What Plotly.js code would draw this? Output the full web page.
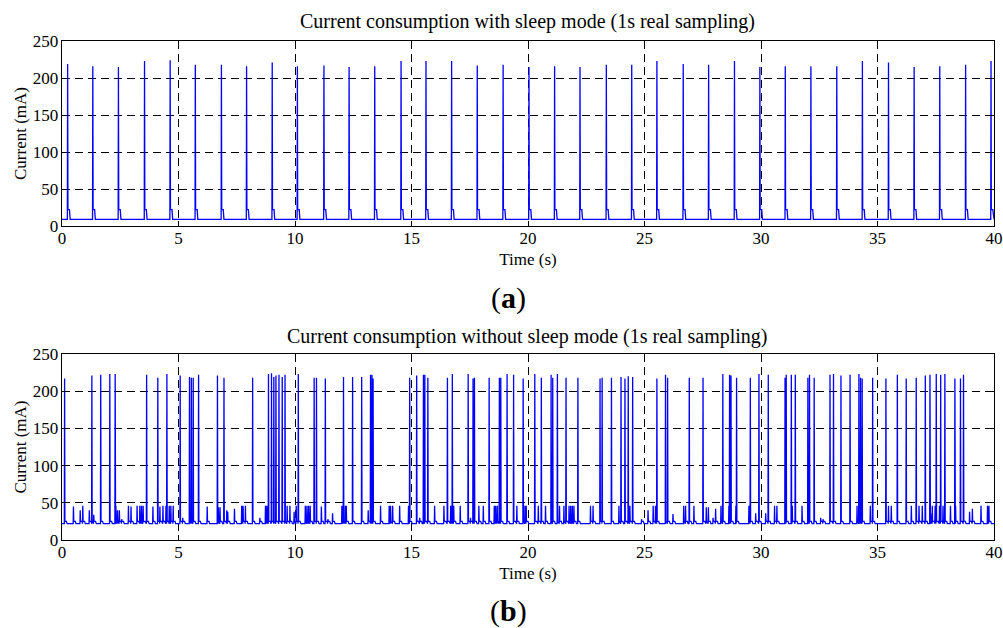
<!DOCTYPE html>
<html>
<head>
<meta charset="utf-8">
<script src="https://cdn.plot.ly/plotly-3.0.1.min.js"></script>
<style>html,body{margin:0;padding:0;background:#fff;}#chart{width:1003px;height:628px;}</style>
</head>
<body>
<div id="chart"></div>
<script>
// ---- Data ----
// (a) with sleep mode: periodic transmission spikes
const sleepSpikeTimes = [0.23, 1.31, 2.41, 3.53, 4.63, 5.71, 6.83, 7.91, 9.01, 10.09, 11.23, 12.31, 13.41, 14.54, 15.61, 16.71, 17.81, 18.92, 20.03, 21.13, 22.22, 23.35, 24.44, 25.52, 26.65, 27.74, 28.85, 29.94, 31.03, 32.13, 33.24, 34.34, 35.46, 36.56, 37.66, 38.77, 39.86];
const sleepSpikePeaks = [219, 216, 215, 223, 224, 218, 218, 216, 221, 216, 217, 215, 216, 223, 223, 223, 217, 218, 215, 216, 215, 218, 218, 223, 219, 218, 223, 215, 216, 216, 216, 223, 221, 215, 216, 218, 223];
const sleepBase = 9;
const sleepShoulder = 22;

// (b) without sleep mode: tall transmission spikes
const awakeTallTimes = [0.10, 1.27, 1.65, 2.04, 2.27, 3.62, 4.10, 4.49, 5.06, 5.46, 5.54, 5.62, 5.85, 6.66, 6.94, 8.17, 8.85, 8.98, 9.08, 9.17, 9.30, 9.44, 9.56, 10.13, 10.81, 10.91, 11.29, 12.07, 12.46, 12.85, 13.23, 13.29, 13.34, 14.91, 15.21, 15.50, 15.56, 15.69, 16.53, 16.74, 17.42, 17.63, 17.69, 18.32, 18.76, 18.82, 19.09, 19.37, 19.78, 20.28, 20.56, 20.98, 21.05, 21.25, 21.62, 22.13, 23.08, 23.17, 23.57, 23.98, 24.15, 24.29, 24.48, 25.52, 25.89, 25.98, 26.91, 27.50, 28.35, 28.64, 28.70, 28.94, 29.53, 29.90, 30.30, 31.02, 31.07, 31.29, 31.46, 32.00, 32.07, 32.27, 32.95, 33.10, 33.42, 33.81, 34.19, 34.26, 34.33, 34.78, 35.35, 35.84, 36.22, 36.65, 37.04, 37.24, 37.51, 37.70, 37.88, 38.31, 38.55, 38.68];
const awakeTallPeaks = [217, 221, 222, 223, 223, 222, 218, 223, 221, 219, 218, 218, 222, 221, 218, 218, 223, 224, 219, 221, 222, 219, 222, 223, 218, 218, 217, 219, 219, 219, 222, 222, 217, 218, 221, 222, 222, 218, 218, 223, 223, 217, 218, 218, 218, 218, 223, 222, 217, 223, 218, 222, 218, 223, 218, 218, 217, 218, 218, 219, 217, 220, 219, 217, 222, 218, 218, 218, 223, 222, 221, 218, 218, 223, 222, 218, 222, 222, 222, 218, 222, 218, 222, 223, 221, 222, 223, 218, 217, 218, 217, 222, 217, 218, 221, 222, 223, 222, 223, 217, 217, 222];
// (b) medium / small activity spikes
const awakeMidTimes = [0.48, 0.77, 0.88, 1.16, 1.35, 2.30, 2.37, 2.45, 2.55, 2.84, 2.95, 3.21, 3.33, 3.40, 3.47, 3.89, 4.19, 4.32, 4.45, 4.59, 4.66, 4.76, 5.17, 6.22, 6.70, 6.77, 7.06, 7.10, 7.39, 7.70, 7.76, 7.86, 8.48, 8.72, 8.78, 9.65, 9.77, 9.95, 10.04, 10.43, 10.50, 10.57, 10.64, 11.12, 11.40, 11.60, 12.00, 12.15, 12.19, 13.13, 13.66, 14.03, 14.09, 14.18, 14.48, 14.86, 15.34, 15.98, 16.38, 16.67, 16.80, 17.08, 17.52, 17.88, 18.07, 18.54, 18.60, 18.67, 19.51, 19.86, 19.91, 20.43, 20.74, 21.34, 21.53, 21.75, 21.82, 21.89, 21.96, 22.67, 22.78, 23.89, 24.36, 24.86, 25.14, 25.36, 25.46, 26.21, 26.67, 26.75, 27.11, 27.64, 27.73, 27.93, 28.04, 28.27, 28.61, 28.91, 29.47, 29.76, 30.19, 30.57, 30.67, 31.33, 31.75, 32.55, 32.65, 34.11, 34.68, 35.46, 35.58, 36.44, 36.77, 36.91, 37.27, 37.34, 37.46, 37.65, 37.80, 38.12, 38.34, 38.94, 39.06, 39.43, 39.71, 39.77];
const awakeMidPeaks = [45, 40, 46, 40, 34, 46, 40, 40, 28, 46, 45, 46, 46, 46, 46, 45, 45, 46, 46, 46, 46, 46, 30, 45, 44, 44, 40, 38, 42, 46, 46, 46, 30, 46, 46, 46, 46, 38, 46, 46, 46, 46, 46, 45, 28, 36, 46, 46, 46, 40, 46, 46, 46, 46, 46, 46, 30, 46, 46, 46, 46, 46, 30, 46, 46, 46, 46, 46, 46, 46, 46, 46, 46, 46, 46, 46, 46, 46, 46, 46, 46, 46, 46, 28, 40, 46, 46, 35, 46, 46, 46, 44, 44, 30, 42, 46, 46, 46, 46, 36, 36, 46, 46, 46, 46, 30, 28, 46, 46, 46, 46, 46, 46, 46, 36, 46, 46, 46, 46, 46, 46, 38, 42, 46, 46, 46];
const awakeBase = 22;
const awakeShoulder = 25;

const xTicks = [0, 5, 10, 15, 20, 25, 30, 35, 40];
const yTicks = [0, 50, 100, 150, 200, 250];

// ---- Build the traces from the event lists ----
function buildSeries(events, base, shoulder) {
  events.sort((a, b) => a[0] - b[0]);
  const xs = [0], ys = [base];
  for (let i = 0; i < events.length; i++) {
    const t = events[i][0], p = events[i][1];
    const next = i + 1 < events.length ? events[i + 1][0] : 40;
    const offs = [[0, base], [0.012, p], [0.025, shoulder], [0.09, shoulder], [0.12, base]];
    for (const o of offs) {
      if (t + o[0] < next) { xs.push(t + o[0]); ys.push(o[1]); }
    }
  }
  xs.push(40); ys.push(base);
  return {xs, ys};
}
const sleepEvents = sleepSpikeTimes.map((t, i) => [t, sleepSpikePeaks[i]]);
const awakeEvents = awakeTallTimes.map((t, i) => [t, awakeTallPeaks[i]])
  .concat(awakeMidTimes.map((t, i) => [t, awakeMidPeaks[i]]));
const sA = buildSeries(sleepEvents, sleepBase, sleepShoulder);
const sB = buildSeries(awakeEvents, awakeBase, awakeShoulder);

const W = 1003, H = 628;
const fx = p => p / W;
const fy = p => 1 - p / H;
const FONT = 'Liberation Serif, Times New Roman, serif';

const traces = [
  {x: sA.xs, y: sA.ys, type: 'scatter', mode: 'lines', line: {color: '#0000ff', width: 1.3}, xaxis: 'x', yaxis: 'y', showlegend: false, hoverinfo: 'skip'},
  {x: sB.xs, y: sB.ys, type: 'scatter', mode: 'lines', line: {color: '#0000ff', width: 1.3}, xaxis: 'x2', yaxis: 'y2', showlegend: false, hoverinfo: 'skip'}
];

function xa(anchor) {
  return {
    domain: [fx(62), fx(994)], range: [0, 40], tickvals: xTicks, ticktext: xTicks.map(String),
    anchor: anchor, showgrid: true, gridcolor: '#000', griddash: '8px,5px', gridwidth: 1,
    zeroline: false, showline: true, linecolor: '#000', linewidth: 1.3, mirror: 'ticks',
    ticks: 'inside', ticklen: 5, tickcolor: '#000', ticklabelstandoff: -4,
    tickfont: {family: FONT, size: 17, color: '#000'},
    title: {text: 'Time (s)', font: {family: FONT, size: 17, color: '#000'}, standoff: 6},
    automargin: false, fixedrange: true
  };
}
function ya(anchor, top, bottom) {
  return {
    domain: [fy(bottom), fy(top)], range: [0, 250], tickvals: yTicks, ticktext: yTicks.map(String),
    anchor: anchor, showgrid: true, gridcolor: '#000', griddash: '8px,5px', gridwidth: 1,
    zeroline: false, showline: true, linecolor: '#000', linewidth: 1.3, mirror: 'ticks',
    ticks: 'inside', ticklen: 5, tickcolor: '#000', ticklabelstandoff: -1,
    tickfont: {family: FONT, size: 17, color: '#000'},
    title: {text: 'Current (mA)', font: {family: FONT, size: 17, color: '#000'}, standoff: 1},
    automargin: false, fixedrange: true
  };
}

const layout = {
  width: W, height: H,
  margin: {l: 0, r: 0, t: 0, b: 0},
  paper_bgcolor: '#fff', plot_bgcolor: '#fff',
  showlegend: false,
  xaxis: xa('y'), yaxis: ya('x', 41, 226),
  xaxis2: xa('y2'), yaxis2: ya('x2', 354, 540),
  annotations: [
    {text: 'Current consumption with sleep mode (1s real sampling)', xref: 'paper', yref: 'paper', x: fx(527), y: fy(21), xanchor: 'center', yanchor: 'middle', showarrow: false, font: {family: FONT, size: 20, color: '#000'}},
    {text: 'Current consumption without sleep mode (1s real sampling)', xref: 'paper', yref: 'paper', x: fx(527), y: fy(336), xanchor: 'center', yanchor: 'middle', showarrow: false, font: {family: FONT, size: 20, color: '#000'}},
    {text: '(<b>a</b>)', xref: 'paper', yref: 'paper', x: fx(508), y: fy(298), xanchor: 'center', yanchor: 'middle', showarrow: false, font: {family: FONT, size: 30, color: '#000'}},
    {text: '(<b>b</b>)', xref: 'paper', yref: 'paper', x: fx(508), y: fy(611), xanchor: 'center', yanchor: 'middle', showarrow: false, font: {family: FONT, size: 30, color: '#000'}}
  ]
};

Plotly.newPlot('chart', traces, layout, {displayModeBar: false, staticPlot: true});
</script>
</body>
</html>
